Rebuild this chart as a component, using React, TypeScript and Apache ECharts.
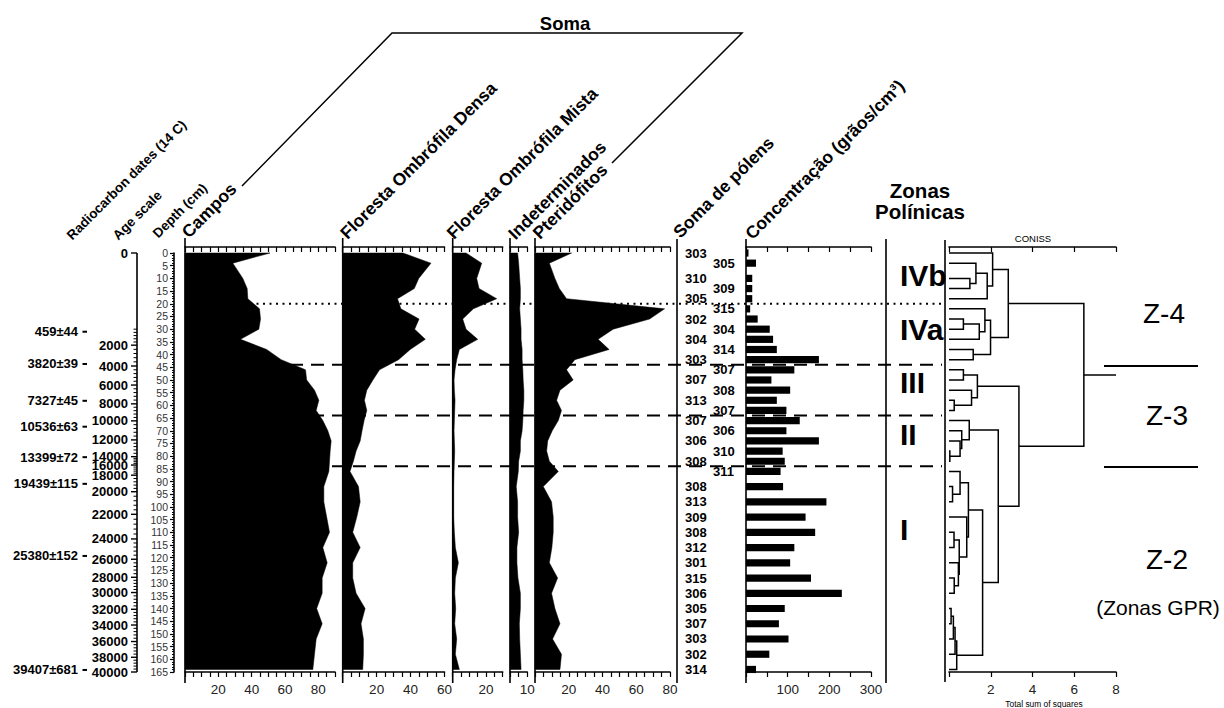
import React, { useEffect, useRef } from 'react';
import * as echarts from 'echarts';

const FONT = '"Liberation Sans", Arial, Helvetica, sans-serif';

// ---------------- data ----------------
const sampleDepth = [0, 4, 10, 14, 18, 22, 26, 30, 34, 38, 42, 46, 50, 54, 58, 62, 66, 70, 74, 78, 82, 86, 92, 98, 104, 110, 116, 122, 128, 134, 140, 146, 152, 158, 164];
const campos = [51, 28.7, 34.7, 37.3, 37.7, 44.7, 45.3, 44.3, 33.3, 49, 57.7, 72.3, 73, 77.7, 80.3, 78.7, 82.7, 85.7, 87.7, 87.1, 86.7, 86.3, 83.3, 83.3, 85, 86.7, 82.7, 85.3, 82.3, 82.3, 79, 82.3, 78.7, 77.7, 76.7];
const florestaDensa = [35.5, 52, 44.8, 42.2, 32.3, 34.3, 45, 42.4, 48.7, 39.8, 32.9, 21.7, 17.8, 14.2, 12.8, 14.2, 12.6, 11.4, 10.3, 7.9, 6.3, 4.3, 9.3, 10.3, 8.3, 5.9, 10.3, 5.9, 5.9, 7.9, 13.2, 10.8, 12.2, 12.2, 11.8];
const florestaMista = [8, 17.4, 14.4, 15.8, 26.4, 12.4, 6, 8, 15, 4, 2.4, 1.4, 0.8, 1, 1.4, 1.2, 1, 0.8, 1, 1.2, 1, 0.8, 0.6, 0.6, 0.6, 1, 1.6, 3.4, 1.6, 1.2, 1.8, 1.2, 2.4, 1.6, 4];
const indeterminados = [4.4, 5, 5.6, 6, 6, 5.6, 6, 6.4, 6.4, 7, 7, 7.4, 7.6, 8, 8, 7.6, 7.4, 7, 6, 6, 5, 4.8, 3.6, 4.4, 4.4, 5, 4, 4, 4.6, 6, 6, 5.4, 5.6, 6, 6.4];
const pteridofitos = [21.7, 8.5, 11.8, 14.4, 18.7, 76.8, 67.9, 46.3, 37.4, 43.9, 23.6, 18.7, 22.6, 14.8, 12.8, 15.7, 13.8, 10.2, 7.5, 6.9, 8.5, 13.8, 4.9, 9.8, 10.8, 10.8, 10, 8.5, 13.4, 9.8, 11.8, 14.8, 10.4, 15.7, 14.8];
const somaPolens = [303, 305, 310, 309, 305, 315, 302, 304, 304, 314, 303, 307, 307, 308, 313, 307, 307, 306, 306, 310, 308, 311, 308, 313, 309, 308, 312, 301, 315, 306, 305, 307, 303, 302, 314];
const concentracao = [6, 24, 15, 15, 15, 10, 28, 57, 65, 74, 175, 116, 61, 106, 74, 97, 129, 97, 175, 88, 93, 83, 89, 193, 143, 166, 116, 106, 156, 230, 93, 79, 102, 56, 24];

const zoneNames = ['IVb', 'IVa', 'III', 'II', 'I'];
const zoneFirstSample = [0, 5, 11, 16, 21];
const zoneLabelDepth = [9, 30, 51, 71.5, 109];

const ageTickValues = [0, 2000, 4000, 6000, 8000, 10000, 12000, 14000, 16000, 18000, 20000, 22000, 24000, 26000, 28000, 30000, 32000, 34000, 36000, 38000, 40000];
const ageTickDepths = [0, 36.3, 44.5, 52, 59.4, 66.1, 73.6, 80.2, 83.5, 87.5, 94, 102.9, 112.6, 120.6, 127.7, 133.7, 140.3, 146.5, 153, 159.2, 165];
const ageOnsetDepth = 30;

const radiocarbonDates = ['459±44', '3820±39', '7327±45', '10536±63', '13399±72', '19439±115', '25380±152', '39407±681'];
const radiocarbonDepths = [31, 43.7, 58.2, 68.4, 80.4, 90.9, 119.3, 164.2];

// CONISS merges: [childA, childB, total sum of squares]; leaves = samples 0..34, merged clusters numbered from 35
const conissMerges: [number, number, number][] = [
  [2, 3, 1.0], [1, 35, 1.29], [36, 4, 1.83], [0, 37, 2.09],
  [6, 7, 0.69], [39, 8, 1.45], [5, 40, 1.72], [9, 10, 1.16], [41, 42, 1.99], [38, 43, 2.84],
  [11, 12, 0.69], [14, 15, 0.25], [13, 46, 1.08], [45, 47, 1.36],
  [19, 20, 0.04], [18, 49, 0.53], [17, 50, 0.61], [16, 51, 0.97],
  [22, 23, 0.17], [21, 53, 0.53], [25, 26, 0.24], [28, 29, 0.25], [27, 56, 0.45], [55, 57, 0.49],
  [24, 58, 0.85], [54, 59, 0.93], [30, 31, 0.1], [61, 32, 0.21], [62, 33, 0.29], [63, 34, 0.37],
  [60, 64, 1.61], [52, 65, 2.36], [48, 66, 3.35], [44, 67, 6.46],
];

function buildOption() {
  const TOP = 253;
  const H = 419;
  const panels = [
    { values: campos, left: 185, width: 150, max: 90, interval: 5, labels: [20, 40, 60, 80] },
    { values: florestaDensa, left: 342.7, width: 101.8, max: 60, interval: 5, labels: [20, 40, 60] },
    { values: florestaMista, left: 452.7, width: 50, max: 30, interval: 5, labels: [20] },
    { values: indeterminados, left: 510, width: 17.3, max: 10, interval: 5, labels: [10] },
    { values: pteridofitos, left: 535, width: 135, max: 80, interval: 5, labels: [20, 40, 60, 80] },
  ];
  const conc = { left: 746, width: 125, max: 300, interval: 50, labels: [100, 200, 300] };
  const dend = { left: 949, width: 167, max: 8, interval: 2, labels: [2, 4, 6, 8] };

  const grids: any[] = [];
  const xAxes: any[] = [];
  const yAxes: any[] = [];
  const series: any[] = [];
  const axisLineStyle = { color: '#000', width: 1.6 };
  const tickStyle = { color: '#000', width: 1.2 };

  const addGrid = (left: number, width: number) => {
    grids.push({ left, top: TOP, width, height: H, containLabel: false, outerBoundsMode: 'none' });
    return grids.length - 1;
  };
  const addAxes = (g: number, max: number, interval: number, labels: number[]) => {
    xAxes.push({
      gridIndex: g, type: 'value', position: 'top', offset: 6, min: 0, max, interval,
      axisLine: { show: true, onZero: false, lineStyle: axisLineStyle },
      axisTick: { show: true, inside: true, length: 5, lineStyle: tickStyle },
      axisLabel: { show: false }, splitLine: { show: false },
    });
    xAxes.push({
      gridIndex: g, type: 'value', position: 'bottom', min: 0, max, interval,
      axisLine: { show: true, onZero: false, lineStyle: axisLineStyle },
      axisTick: { show: true, inside: false, length: 5, lineStyle: tickStyle },
      axisLabel: {
        show: true, fontSize: 13.5, fontFamily: FONT, color: '#222', margin: 10,
        showMinLabel: true, showMaxLabel: true,
        formatter: (v: number) => (labels.indexOf(Math.round(v)) >= 0 ? String(Math.round(v)) : ''),
      },
      splitLine: { show: false },
    });
    yAxes.push({ gridIndex: g, type: 'value', min: 0, max: 165, inverse: true, show: false });
  };

  // pollen panels
  panels.forEach((p, pi) => {
    const g = addGrid(p.left, p.width);
    addAxes(g, p.max, p.interval, p.labels);
    series.push({
      type: 'custom', coordinateSystem: 'cartesian2d', xAxisIndex: 2 * g + 1, yAxisIndex: g,
      silent: true, z: 2,
      data: p.values.map((v, i) => [v, sampleDepth[i]]),
      renderItem: (params: any, api: any) => {
        if (params.dataIndex !== 0) return null;
        const pts: number[][] = [];
        pts.push(api.coord([0, sampleDepth[0]]));
        p.values.forEach((v, i) => pts.push(api.coord([v, sampleDepth[i]])));
        pts.push(api.coord([0, sampleDepth[sampleDepth.length - 1]]));
        return { type: 'polygon', shape: { points: pts }, style: { fill: '#000', stroke: '#000', lineWidth: 0.5 } };
      },
    });
  });

  // concentration
  const gc = addGrid(conc.left, conc.width);
  addAxes(gc, conc.max, conc.interval, conc.labels);
  series.push({
    type: 'custom', coordinateSystem: 'cartesian2d', xAxisIndex: 2 * gc + 1, yAxisIndex: gc,
    silent: true, z: 2,
    data: concentracao.map((v, i) => [v, sampleDepth[i]]),
    renderItem: (params: any, api: any) => {
      const v = api.value(0);
      const d = api.value(1);
      const p0 = api.coord([0, d]);
      const p1 = api.coord([v, d]);
      return { type: 'rect', shape: { x: p0[0], y: p0[1] - 3.6, width: p1[0] - p0[0], height: 7.2 }, style: { fill: '#000' } };
    },
  });

  // dendrogram
  const gd = addGrid(dend.left, dend.width);
  addAxes(gd, dend.max, dend.interval, dend.labels);
  const nodeH: number[] = sampleDepth.map(() => 0);
  const nodeD: number[] = sampleDepth.slice();
  conissMerges.forEach(([a, b, h]) => {
    nodeH.push(h);
    nodeD.push((nodeD[a] + nodeD[b]) / 2);
  });
  series.push({
    type: 'custom', coordinateSystem: 'cartesian2d', xAxisIndex: 2 * gd + 1, yAxisIndex: gd,
    silent: true, z: 3,
    data: conissMerges.map((m) => [m[2], 0]),
    renderItem: (params: any, api: any) => {
      const i = params.dataIndex;
      const [a, b, h] = conissMerges[i];
      const id = sampleDepth.length + i;
      const pts = [
        api.coord([nodeH[a], nodeD[a]]), api.coord([h, nodeD[a]]),
        api.coord([h, nodeD[b]]), api.coord([nodeH[b], nodeD[b]]),
      ];
      const children: any[] = [
        { type: 'polyline', shape: { points: pts }, style: { stroke: '#000', lineWidth: 1.5, fill: 'none' } },
      ];
      if (i === conissMerges.length - 1) {
        const r0 = api.coord([h, nodeD[id]]);
        const r1 = api.coord([dend.max, nodeD[id]]);
        children.push({ type: 'line', shape: { x1: r0[0], y1: r0[1], x2: r1[0], y2: r1[1] }, style: { stroke: '#000', lineWidth: 1.5 } });
      }
      return { type: 'group', children };
    },
  });

  // depth axis
  const gdepth = addGrid(174, 2);
  xAxes.push({ gridIndex: gdepth, type: 'value', min: 0, max: 1, show: false });
  yAxes.push({
    gridIndex: gdepth, type: 'value', min: 0, max: 165, interval: 5, inverse: true, position: 'left',
    axisLine: { show: true, onZero: false, lineStyle: axisLineStyle },
    axisTick: { show: true, inside: false, length: 4, lineStyle: tickStyle },
    minorTick: { show: true, splitNumber: 5, length: 2, lineStyle: { color: '#000', width: 1 } },
    axisLabel: { show: true, fontSize: 10.5, fontFamily: FONT, color: '#333', margin: 6 },
    splitLine: { show: false }, minorSplitLine: { show: false },
  });

  // overlay grid (pixel x, depth y)
  const go = addGrid(0, 1224);
  xAxes.push({ gridIndex: go, type: 'value', min: 0, max: 1224, show: false });
  yAxes.push({ gridIndex: go, type: 'value', min: 0, max: 165, inverse: true, show: false });
  const ox = xAxes.length - 1;
  const oy = yAxes.length - 1;

  const txt = (text: string, x: number, y: number, size: number, weight: string, align: string) => ({
    type: 'text', x, y,
    style: {
      text, fill: '#000', fontSize: size, fontWeight: weight, fontFamily: FONT,
      align, verticalAlign: 'middle', textAlign: align, textVerticalAlign: 'middle',
    },
  });

  // age scale
  const AX = 137;
  series.push({
    type: 'custom', coordinateSystem: 'cartesian2d', xAxisIndex: ox, yAxisIndex: oy, silent: true, z: 3,
    data: ageTickDepths.map((d) => [0, d]),
    renderItem: (params: any, api: any) => {
      const i = params.dataIndex;
      const d = ageTickDepths[i];
      const y = api.coord([0, d])[1];
      const children: any[] = [];
      if (i === 0) {
        const yEnd = api.coord([0, ageTickDepths[ageTickDepths.length - 1]])[1];
        children.push({ type: 'line', shape: { x1: AX, y1: y, x2: AX, y2: yEnd }, style: { stroke: '#000', lineWidth: 1.6 } });
      }
      children.push({ type: 'line', shape: { x1: AX - 6, y1: y, x2: AX, y2: y }, style: { stroke: '#000', lineWidth: 1.4 } });
      children.push(txt(String(ageTickValues[i]), AX - 9, y, 13, 'bold', 'right'));
      if (i < ageTickDepths.length - 1) {
        const start = i === 0 ? ageOnsetDepth : d;
        const end = ageTickDepths[i + 1];
        for (let k = i === 0 ? 0 : 1; k < 5; k++) {
          const yy = api.coord([0, start + ((end - start) * k) / 5])[1];
          children.push({ type: 'line', shape: { x1: AX - 3.5, y1: yy, x2: AX, y2: yy }, style: { stroke: '#000', lineWidth: 1 } });
        }
      }
      return { type: 'group', children };
    },
  });

  // radiocarbon dates
  series.push({
    type: 'custom', coordinateSystem: 'cartesian2d', xAxisIndex: ox, yAxisIndex: oy, silent: true, z: 3,
    data: radiocarbonDepths.map((d) => [0, d]),
    renderItem: (params: any, api: any) => {
      const i = params.dataIndex;
      const y = api.coord([0, radiocarbonDepths[i]])[1];
      return {
        type: 'group',
        children: [
          txt(radiocarbonDates[i], 78, y, 13, 'bold', 'right'),
          { type: 'rect', shape: { x: 82.5, y: y - 1, width: 4.5, height: 2 }, style: { fill: '#000' } },
        ],
      };
    },
  });

  // soma de pólens labels
  series.push({
    type: 'custom', coordinateSystem: 'cartesian2d', xAxisIndex: ox, yAxisIndex: oy, silent: true, z: 4,
    data: somaPolens.map((s, i) => [0, sampleDepth[i]]),
    renderItem: (params: any, api: any) => {
      const i = params.dataIndex;
      const y = api.coord([0, sampleDepth[i]])[1];
      const prevGap = i > 0 ? sampleDepth[i] - sampleDepth[i - 1] : 99;
      const nextGap = i < sampleDepth.length - 1 ? sampleDepth[i + 1] - sampleDepth[i] : 99;
      const tight = prevGap < 5 || nextGap < 5;
      const x = tight && i % 2 === 1 ? 713 : 685;
      return txt(String(somaPolens[i]), x, y, 13, 'bold', 'left');
    },
  });

  // zone boundaries
  const boundaries = zoneFirstSample.slice(1).map((s) => (sampleDepth[s - 1] + sampleDepth[s]) / 2);
  series.push({
    type: 'custom', coordinateSystem: 'cartesian2d', xAxisIndex: ox, yAxisIndex: oy, silent: true, z: 5,
    data: boundaries.map((d) => [0, d]),
    renderItem: (params: any, api: any) => {
      const i = params.dataIndex;
      const y = api.coord([0, boundaries[i]])[1];
      return {
        type: 'line', shape: { x1: 185, y1: y, x2: 942, y2: y },
        style: { stroke: '#000', lineWidth: 2, lineDash: i === 0 ? [2, 4.5] : [13, 8] },
      };
    },
  });

  // zone labels
  series.push({
    type: 'custom', coordinateSystem: 'cartesian2d', xAxisIndex: ox, yAxisIndex: oy, silent: true, z: 5,
    data: zoneLabelDepth.map((d) => [0, d]),
    renderItem: (params: any, api: any) => {
      const i = params.dataIndex;
      const y = api.coord([0, zoneLabelDepth[i]])[1];
      return txt(zoneNames[i], 900, y, 30, 'bold', 'left');
    },
  });

  // ---------- static graphic layout ----------
  const graphic: any[] = [];
  const vLines = [[185, 238, 683], [342.7, 238, 683], [452.7, 238, 683], [510, 238, 683], [535, 238, 683], [677, 239, 683], [746, 239, 683], [886, 239, 683], [945, 240, 682]];
  vLines.forEach(([x, y1, y2]) => graphic.push({ type: 'line', shape: { x1: x, y1, x2: x, y2 }, style: { stroke: '#000', lineWidth: 1.6 } }));
  graphic.push({ type: 'polyline', shape: { points: [[242, 186], [392, 33], [742, 33], [612, 163]] }, style: { stroke: '#000', lineWidth: 1.5, fill: 'none' } });

  const gtext = (text: string, x: number, y: number, size: number, weight: string, align = 'center') => ({
    type: 'text', x, y,
    style: { text, fill: '#000', fontSize: size, fontWeight: weight, fontFamily: FONT, align, verticalAlign: 'middle', textAlign: align, textVerticalAlign: 'middle' },
  });
  const rot = (text: string, x: number, y: number, size: number) => ({
    type: 'text', x, y, rotation: Math.PI / 4,
    style: { text, fill: '#000', fontSize: size, fontWeight: 'bold', fontFamily: FONT, align: 'left', verticalAlign: 'bottom', textAlign: 'left', textVerticalAlign: 'bottom' },
  });

  graphic.push(gtext('Soma', 565, 23, 18.5, 'bold'));
  graphic.push(rot('Radiocarbon dates (14 C)', 74, 242.5, 13.5));
  graphic.push(rot('Age scale', 120, 242.5, 13.5));
  graphic.push(rot('Depth (cm)', 160, 240.5, 13.5));
  graphic.push(rot('Campos', 191, 241, 17.5));
  graphic.push(rot('Floresta Ombrófila Densa', 349.5, 242, 17.5));
  graphic.push(rot('Floresta Ombrófila Mista', 456, 242, 17.5));
  graphic.push(rot('Indeterminados', 517.5, 242.5, 17.5));
  graphic.push(rot('Pteridófitos', 542, 242, 17.5));
  graphic.push(rot('Soma de pólens', 682.5, 241, 17.5));
  graphic.push(rot('Concentração (grãos/cm³)', 754.5, 242.5, 17.5));
  graphic.push(gtext('Zonas', 920, 190, 20.5, 'bold'));
  graphic.push(gtext('Polínicas', 920, 211, 20.5, 'bold'));
  graphic.push(gtext('CONISS', 1033, 238.5, 9.5, 'normal'));
  graphic.push(gtext('Total sum of squares', 1044, 704, 8.4, 'normal'));
  graphic.push(gtext('Z-4', 1164, 313, 28, 'normal'));
  graphic.push(gtext('Z-3', 1167, 415, 28, 'normal'));
  graphic.push(gtext('Z-2', 1167, 559, 28, 'normal'));
  graphic.push(gtext('(Zonas GPR)', 1158, 607, 21, 'normal'));
  graphic.push({ type: 'line', shape: { x1: 1104, y1: 366, x2: 1198, y2: 366 }, style: { stroke: '#000', lineWidth: 2 } });
  graphic.push({ type: 'line', shape: { x1: 1104, y1: 467, x2: 1198, y2: 467 }, style: { stroke: '#000', lineWidth: 2 } });

  return {
    animation: false,
    backgroundColor: '#fff',
    textStyle: { fontFamily: FONT },
    grid: grids,
    xAxis: xAxes,
    yAxis: yAxes,
    series,
    graphic: { elements: graphic },
  };
}

export default function App() {
  const ref = useRef<HTMLDivElement>(null);
  useEffect(() => {
    if (!ref.current) return;
    const chart = echarts.init(ref.current, undefined, { renderer: 'svg' });
    chart.setOption(buildOption() as any);
    return () => chart.dispose();
  }, []);
  return <div ref={ref} style={{ position: 'absolute', left: 0, top: 0, width: 1224, height: 708, background: '#fff' }} />;
}
